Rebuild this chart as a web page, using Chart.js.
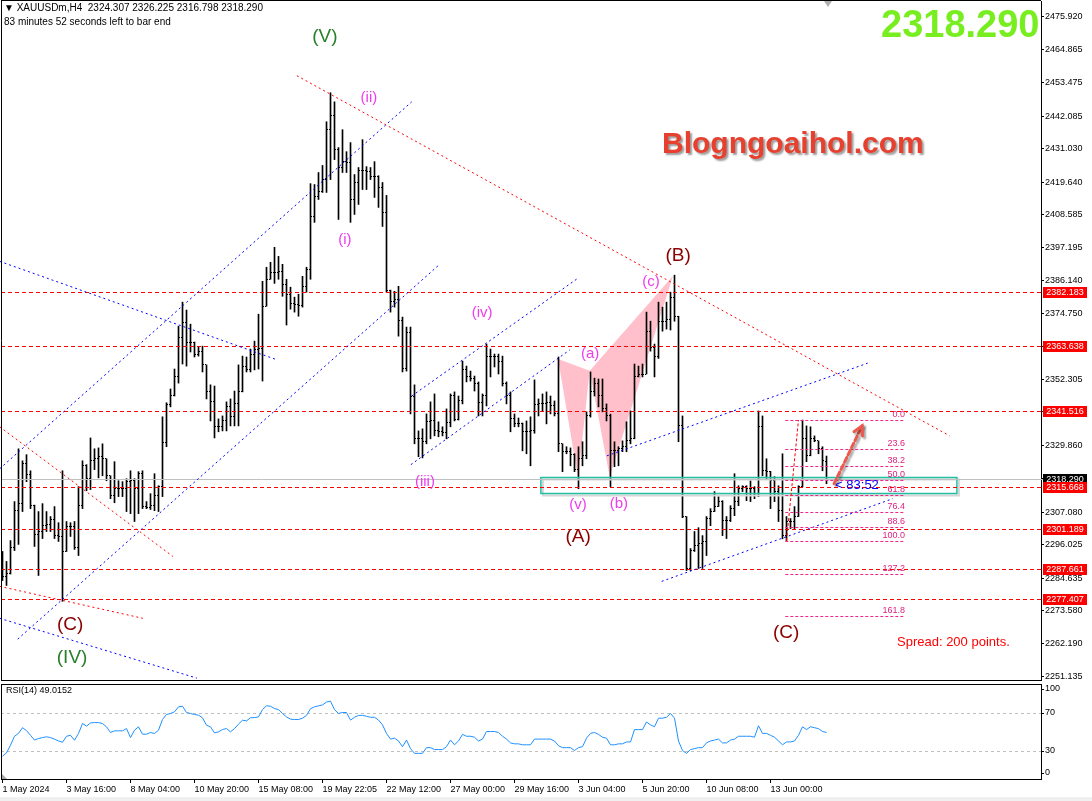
<!DOCTYPE html>
<html>
<head>
<meta charset="utf-8">
<title>XAUUSDm,H4</title>
<script src="https://cdn.jsdelivr.net/npm/chart.js@4.4.1/dist/chart.umd.min.js"></script>
<style>
  html, body { margin: 0; padding: 0; background: #fff; }
  body { position: relative; width: 1092px; height: 801px; overflow: hidden; }
  canvas { position: absolute; left: 0; }
  #priceChart { top: 0; }
  #rsiChart { top: 682px; }
  #strip { position: absolute; left: 0; top: 797px; width: 1092px; height: 4px; background: #f0f0f0; }
</style>
</head>
<body>
<canvas id="priceChart" width="1092" height="682"></canvas>
<canvas id="rsiChart" width="1092" height="115"></canvas>
<div id="strip"></div>
<script>
const timeTickIdx = [0, 16, 32, 48, 64, 80, 96, 112, 128, 144, 160, 176, 192];
const timeTickLabels = ["1 May 2024", "3 May 16:00", "8 May 04:00", "10 May 20:00", "15 May 08:00",
  "19 May 22:05", "22 May 12:00", "27 May 00:00", "29 May 16:00", "3 Jun 04:00", "5 Jun 20:00",
  "10 Jun 08:00", "13 Jun 00:00"];
const priceTicks = [2475.920, 2464.865, 2453.475, 2442.085, 2431.030, 2419.640, 2408.585, 2397.195,
  2386.140, 2374.750, 2363.695, 2352.305, 2341.250, 2329.860, 2318.470, 2307.080, 2296.025,
  2284.635, 2273.580, 2262.190, 2251.135];

const opens = [2289.6,
  2285.2, 2286.2, 2295.0, 2307.6, 2310.0, 2323.6, 2319.8, 2309.3, 2299.5, 2300.5,
  2302.5, 2302.9, 2304.6, 2299.1, 2298.8, 2293.7, 2302.2, 2302.2, 2295.0, 2309.3,
  2322.9, 2318.5, 2324.6, 2325.3, 2326.0, 2325.3, 2319.5, 2312.7, 2315.1, 2315.1,
  2315.1, 2317.5, 2317.8, 2315.1, 2320.2, 2309.0, 2308.6, 2309.3, 2312.7, 2315.8,
  2330.7, 2343.7, 2346.7, 2353.5, 2366.8, 2371.9, 2365.1, 2365.1, 2360.7, 2362.0,
  2357.3, 2348.4, 2344.7, 2336.2, 2336.2, 2338.2, 2343.0, 2339.6, 2344.0, 2348.1,
  2356.9, 2355.9, 2361.0, 2362.7, 2363.0, 2377.3, 2386.5, 2388.9, 2388.9, 2389.2,
  2384.8, 2381.4, 2378.3, 2378.0, 2377.7, 2384.1, 2389.9, 2407.9, 2414.7, 2416.4,
  2420.5, 2437.5, 2442.3, 2430.7, 2424.6, 2426.6, 2426.3, 2413.7, 2419.5, 2423.6,
  2423.6, 2423.2, 2421.5, 2421.5, 2417.8, 2409.3, 2382.5, 2379.0, 2379.7, 2372.6,
  2356.2, 2368.5, 2346.4, 2332.1, 2332.1, 2331.1, 2337.9, 2338.2, 2334.8, 2334.5,
  2334.1, 2337.5, 2346.7, 2338.6, 2345.0, 2355.9, 2353.2, 2352.8, 2351.1, 2344.4,
  2346.7, 2360.3, 2360.3, 2360.3, 2358.3, 2351.1, 2346.7, 2338.9, 2337.2, 2337.2,
  2334.5, 2334.5, 2334.8, 2343.7, 2344.0, 2344.0, 2344.4, 2343.3, 2340.6, 2330.4,
  2327.7, 2327.7, 2326.7, 2321.6, 2325.3, 2326.3, 2339.9, 2348.1, 2350.8, 2346.7,
  2342.6, 2339.9, 2328.0, 2328.0, 2328.7, 2329.4, 2331.4, 2332.1, 2353.5, 2353.9,
  2354.2, 2368.8, 2363.4, 2360.0, 2372.2, 2372.2, 2372.9, 2380.4, 2373.9, 2336.5,
  2305.6, 2287.9, 2294.0, 2295.7, 2296.4, 2297.1, 2304.9, 2307.3, 2309.0, 2310.7,
  2304.2, 2304.2, 2308.3, 2310.7, 2315.1, 2315.8, 2315.1, 2315.1, 2313.4, 2336.2,
  2321.2, 2320.9, 2317.8, 2314.1, 2307.6, 2299.1, 2303.9, 2303.9, 2305.6, 2315.8,
  2332.1, 2326.3, 2332.1, 2331.4, 2328.7, 2324.307];

const highs = [
  2293.7, 2290.3, 2297.4, 2310.7, 2328.7, 2324.6, 2326.7, 2321.2, 2309.5, 2307.3,
  2310.0, 2307.3, 2305.6, 2309.0, 2303.5, 2321.2, 2303.9, 2303.5, 2303.9, 2315.8,
  2324.6, 2323.3, 2332.4, 2328.7, 2329.0, 2330.4, 2325.3, 2319.5, 2324.3, 2317.8,
  2317.5, 2318.5, 2321.2, 2318.5, 2320.9, 2321.2, 2310.7, 2313.4, 2320.2, 2316.1,
  2339.6, 2344.4, 2349.1, 2355.9, 2370.5, 2378.7, 2376.0, 2371.2, 2365.1, 2363.4,
  2363.7, 2357.3, 2350.5, 2350.1, 2338.9, 2339.9, 2344.7, 2345.7, 2348.4, 2357.3,
  2360.3, 2360.0, 2362.7, 2365.4, 2374.6, 2385.8, 2390.6, 2392.3, 2397.4, 2394.3,
  2391.6, 2386.5, 2383.8, 2380.4, 2381.4, 2387.5, 2390.6, 2419.1, 2418.8, 2422.9,
  2425.3, 2440.2, 2450.1, 2447.0, 2431.4, 2437.5, 2430.0, 2433.1, 2422.2, 2424.6,
  2434.1, 2424.9, 2424.6, 2426.6, 2421.8, 2419.5, 2415.1, 2382.8, 2382.4, 2384.1,
  2373.6, 2370.2, 2370.2, 2350.5, 2334.8, 2335.5, 2340.6, 2344.7, 2347.4, 2337.9,
  2336.2, 2342.3, 2347.4, 2348.1, 2346.7, 2358.6, 2356.9, 2355.2, 2353.5, 2351.5,
  2347.4, 2364.4, 2362.7, 2361.0, 2361.0, 2360.3, 2351.5, 2348.1, 2340.6, 2339.2,
  2337.5, 2338.2, 2339.6, 2352.2, 2345.7, 2347.4, 2348.1, 2346.7, 2345.0, 2360.0,
  2330.4, 2329.4, 2329.0, 2327.0, 2329.4, 2331.1, 2341.3, 2354.9, 2352.8, 2352.5,
  2352.5, 2344.0, 2340.5, 2331.1, 2329.4, 2331.4, 2337.9, 2341.6, 2357.6, 2356.9,
  2357.6, 2375.3, 2372.2, 2364.4, 2378.7, 2377.0, 2378.7, 2382.1, 2387.9, 2373.9,
  2339.9, 2305.6, 2294.7, 2300.5, 2301.8, 2299.1, 2305.6, 2308.3, 2314.1, 2312.4,
  2311.0, 2305.6, 2309.3, 2320.2, 2316.1, 2316.1, 2316.1, 2317.8, 2315.8, 2341.6,
  2339.9, 2325.3, 2321.0, 2319.2, 2316.1, 2327.0, 2305.6, 2304.9, 2309.0, 2316.1,
  2338.5, 2336.5, 2336.2, 2333.1, 2331.4, 2329.4, 2326.225];

const lows = [
  2283.8, 2282.1, 2286.0, 2294.0, 2296.1, 2307.3, 2317.5, 2308.3, 2295.4, 2285.5,
  2298.1, 2300.5, 2300.5, 2298.1, 2297.1, 2276.7, 2293.7, 2298.8, 2294.4, 2292.3,
  2308.3, 2314.4, 2314.8, 2321.6, 2318.8, 2319.5, 2317.8, 2311.7, 2310.3, 2312.4,
  2312.4, 2307.3, 2306.6, 2303.9, 2306.6, 2308.3, 2308.3, 2308.0, 2307.6, 2307.3,
  2312.4, 2329.4, 2343.0, 2346.7, 2351.1, 2357.6, 2356.9, 2361.7, 2360.0, 2360.3,
  2354.9, 2345.7, 2338.2, 2332.4, 2334.5, 2334.8, 2334.8, 2336.5, 2336.5, 2336.5,
  2348.1, 2354.9, 2354.9, 2355.6, 2355.9, 2351.8, 2377.3, 2386.5, 2385.1, 2386.5,
  2380.7, 2370.9, 2376.3, 2375.3, 2373.9, 2377.0, 2382.1, 2386.5, 2405.9, 2413.7,
  2416.1, 2416.1, 2420.5, 2427.3, 2406.9, 2422.9, 2422.9, 2405.9, 2408.6, 2412.0,
  2417.1, 2417.1, 2420.5, 2414.4, 2411.0, 2404.5, 2382.1, 2375.3, 2377.0, 2367.1,
  2354.9, 2355.2, 2340.6, 2330.4, 2326.0, 2325.6, 2330.4, 2332.1, 2333.1, 2332.8,
  2333.1, 2332.1, 2336.2, 2338.2, 2338.5, 2344.0, 2351.5, 2351.8, 2348.4, 2339.9,
  2339.9, 2343.3, 2353.2, 2356.6, 2354.2, 2350.1, 2344.0, 2334.5, 2336.2, 2336.2,
  2328.0, 2327.0, 2322.9, 2334.0, 2339.9, 2341.6, 2337.2, 2340.6, 2339.9, 2327.7,
  2320.9, 2327.0, 2322.9, 2320.9, 2315.1, 2322.9, 2325.3, 2339.5, 2346.7, 2343.0,
  2341.3, 2338.2, 2315.8, 2322.6, 2322.9, 2327.7, 2327.7, 2330.4, 2332.1, 2353.2,
  2353.2, 2354.2, 2362.0, 2353.2, 2359.5, 2368.8, 2369.5, 2369.2, 2372.2, 2331.1,
  2305.2, 2287.2, 2287.2, 2293.7, 2287.9, 2287.9, 2292.3, 2302.5, 2307.3, 2309.0,
  2299.1, 2298.1, 2303.9, 2305.9, 2309.3, 2314.1, 2311.0, 2310.7, 2311.7, 2312.4,
  2319.5, 2318.5, 2308.3, 2310.7, 2303.9, 2298.0, 2297.3, 2301.5, 2301.5, 2305.6,
  2315.8, 2324.3, 2326.3, 2331.1, 2327.0, 2321.2, 2316.798];

const closes = [
  2285.2, 2286.2, 2295.0, 2307.6, 2310.0, 2323.6, 2319.8, 2309.3, 2299.5, 2300.5,
  2302.5, 2302.9, 2304.6, 2299.1, 2298.8, 2293.7, 2302.2, 2302.2, 2295.0, 2309.3,
  2322.9, 2318.5, 2324.6, 2325.3, 2326.0, 2325.3, 2319.5, 2312.7, 2315.1, 2315.1,
  2315.1, 2317.5, 2317.8, 2315.1, 2320.2, 2309.0, 2308.6, 2309.3, 2312.7, 2315.8,
  2330.7, 2343.7, 2346.7, 2353.5, 2366.8, 2371.9, 2365.1, 2365.1, 2360.7, 2362.0,
  2357.3, 2348.4, 2344.7, 2336.2, 2336.2, 2338.2, 2343.0, 2339.6, 2344.0, 2348.1,
  2356.9, 2355.9, 2361.0, 2362.7, 2363.0, 2377.3, 2386.5, 2388.9, 2388.9, 2389.2,
  2384.8, 2381.4, 2378.3, 2378.0, 2377.7, 2384.1, 2389.9, 2407.9, 2414.7, 2416.4,
  2420.5, 2437.5, 2442.3, 2430.7, 2424.6, 2426.6, 2426.3, 2413.7, 2419.5, 2423.6,
  2423.6, 2423.2, 2421.5, 2421.5, 2417.8, 2409.3, 2382.5, 2379.0, 2379.7, 2372.6,
  2356.2, 2368.5, 2346.4, 2332.1, 2332.1, 2331.1, 2337.9, 2338.2, 2334.8, 2334.5,
  2334.1, 2337.5, 2346.7, 2338.6, 2345.0, 2355.9, 2353.2, 2352.8, 2351.1, 2344.4,
  2346.7, 2360.3, 2360.3, 2360.3, 2358.3, 2351.1, 2346.7, 2338.9, 2337.2, 2337.2,
  2334.5, 2334.5, 2334.8, 2343.7, 2344.0, 2344.0, 2344.4, 2343.3, 2340.6, 2330.4,
  2327.7, 2327.7, 2326.7, 2321.6, 2325.3, 2326.3, 2339.9, 2348.1, 2350.8, 2346.7,
  2342.6, 2339.9, 2328.0, 2328.0, 2328.7, 2329.4, 2331.4, 2332.1, 2353.5, 2353.9,
  2354.2, 2368.8, 2363.4, 2360.0, 2372.2, 2372.2, 2372.9, 2380.4, 2373.9, 2336.5,
  2305.6, 2287.9, 2294.0, 2295.7, 2296.4, 2297.1, 2304.9, 2307.3, 2309.0, 2310.7,
  2304.2, 2304.2, 2308.3, 2310.7, 2315.1, 2315.8, 2315.1, 2315.1, 2313.4, 2336.2,
  2321.2, 2320.9, 2317.8, 2314.1, 2307.6, 2299.1, 2303.9, 2303.9, 2305.6, 2315.8,
  2332.1, 2326.3, 2332.1, 2331.4, 2328.7, 2324.6, 2318.290];

const rsi = [
  24, 27.5, 35.6, 45, 48, 54, 51, 46, 41, 42.6, 43.6, 44.4, 43.6, 41.9, 40.1, 38.7, 45, 46, 40.8, 47.9,
  58.4, 55.6, 59, 59.4, 59.4, 58.4, 54.9, 48.9, 50.7, 50.7, 50.7, 53.1, 43.6, 51.4, 54.9, 47.2, 47.2,
  48.9, 47.9, 51.4, 62.6, 67.9, 68.9, 70.7, 75.9, 76.6, 70, 68.9, 67.9, 67.2, 64.4, 56.6, 54.9, 48.6,
  49.6, 52.1, 53.1, 49.6, 53.1, 57.7, 61.9, 61.2, 64.4, 64.7, 65.4, 73.1, 77, 76.6, 74.2, 73.1, 68.9,
  65.4, 63, 62.6, 62.6,
  64, 67, 74, 76, 77, 78, 81, 82, 73, 69,
  70, 70, 62, 65, 67, 67, 66, 65, 65, 62,
  57, 48, 42, 43, 40, 34, 41, 32, 27, 27,
  27, 33, 33, 31, 31, 31, 34, 41, 36, 40,
  47, 45, 45, 44, 40, 42, 50, 50, 50, 49,
  45, 42, 38, 37, 37, 36, 36, 36, 42, 42,
  42, 42, 42, 40, 35, 33, 33, 33, 30, 33,
  34, 43, 48, 49, 47, 44, 43, 36, 36, 37,
  37, 39, 39, 52, 52, 52, 60, 57, 55, 64,
  64, 65, 69, 64, 40, 30, 27, 31, 32, 33,
  33, 38, 40, 41, 42, 38, 38, 41, 42, 45,
  45, 45, 45, 44, 56, 48, 48, 46, 44, 40,
  36, 39, 39, 40, 46, 55, 52, 55, 54, 53,
  50, 49.0152];

const levels = [2382.183, 2363.638, 2341.516, 2315.668, 2301.189, 2287.661, 2277.407];
const bid = 2318.290;

// trend lines as [bar, price, bar, price]
const blueLines = [
  [3.8, 2263.8, 109.3, 2391.6],
  [-0.7, 2321.9, 102.3, 2447.0],
  [-0.7, 2392.6, 68.1, 2359.3],
  [-0.7, 2270.9, 48.6, 2250.5],
  [102.1, 2323.3, 141.8, 2362.4],
  [102.3, 2346.7, 143.8, 2386.8],
  [151.1, 2326.3, 216.3, 2357.9],
  [164.8, 2283.5, 222.6, 2311.7]
];
const redLines = [
  [73.6, 2455.9, 236.8, 2333.1],
  [-0.7, 2336.2, 42.6, 2292.0],
  [-0.7, 2281.8, 35.1, 2270.9]
];

const fibLevels = [0, 23.6, 38.2, 50, 61.8, 76.4, 88.6, 100, 127.2, 161.8];
const fibHigh = 2338.5, fibLow = 2297.3;
const fibFrom = 195.7, fibTo = 225.6;
const fibTrend = [196, 2297.3, 199, 2338.5];

const harmonic = [
  [[138.9, 2359.3], [143.9, 2318.5], [146.8, 2355.3]],
  [[146.8, 2355.3], [151.8, 2319.1], [167.6, 2387.6]]
];
const zone = [134.6, 2319.2, 238.6, 2313.6];
const arrowPts = [207.9, 2316.8, 214.9, 2336.5];

const GREEN = '#26802a', MAG = '#ee3cee', DRED = '#8b0000';
const waveLabels = [
  ['(V)', 80.6, 2469.1, GREEN, 19],
  ['(ii)', 91.6, 2448.4, MAG, 15],
  ['(i)', 85.6, 2400.1, MAG, 15],
  ['(iv)', 119.9, 2375.2, MAG, 15],
  ['(iii)', 105.6, 2317.4, MAG, 15],
  ['(v)', 143.9, 2309.6, MAG, 15],
  ['(a)', 146.9, 2361.0, MAG, 15],
  ['(b)', 154.1, 2309.9, MAG, 15],
  ['(c)', 162.1, 2385.5, MAG, 15],
  ['(B)', 168.9, 2394.6, DRED, 19],
  ['(A)', 143.9, 2298.7, DRED, 19],
  ['(C)', 16.9, 2268.8, DRED, 19],
  ['(IV)', 17.4, 2257.3, GREEN, 19],
  ['(C)', 195.9, 2266.1, DRED, 19]
];

const FONT = 'Liberation Sans';
const xMin = -0.375, xMax = 259.625;
const yMin = 2249.87, yMax = 2481.375;

function noPad(scale) {
  scale.paddingTop = 0; scale.paddingBottom = 0;
  scale.paddingLeft = 0; scale.paddingRight = 0;
}

function seg(ctx, x1, y1, x2, y2, color, dash, width) {
  ctx.save();
  ctx.strokeStyle = color;
  ctx.lineWidth = width || 1;
  ctx.setLineDash(dash || []);
  ctx.beginPath();
  ctx.moveTo(x1, y1);
  ctx.lineTo(x2, y2);
  ctx.stroke();
  ctx.restore();
}

function label(ctx, s, x, y, font, color, align, base) {
  ctx.font = font;
  ctx.fillStyle = color;
  ctx.textAlign = align || 'left';
  ctx.textBaseline = base || 'alphabetic';
  ctx.fillText(s, x, y);
}

function axisBox(ctx, yy, text, bg) {
  ctx.fillStyle = bg;
  ctx.fillRect(1043, yy - 5, 44, 11);
  label(ctx, text, 1065, yy + 0.5, '9px ' + FONT, '#fff', 'center', 'middle');
}

const priceOverlay = {
  id: 'priceOverlay',
  beforeDatasetsDraw(chart) {
    const { ctx, scales: { x, y } } = chart;
    ctx.save();
    ctx.fillStyle = '#ffc0cb';
    harmonic.forEach(tri => {
      ctx.beginPath();
      tri.forEach(([i, p], k) => {
        if (k === 0) ctx.moveTo(x.getPixelForValue(i), y.getPixelForValue(p));
        else ctx.lineTo(x.getPixelForValue(i), y.getPixelForValue(p));
      });
      ctx.closePath();
      ctx.fill();
    });
    ctx.restore();
  },
  afterDatasetsDraw(chart) {
    const { ctx, scales: { x, y } } = chart;
    const px = i => x.getPixelForValue(i);
    const py = p => y.getPixelForValue(p);
    const crisp = v => Math.round(v) + 0.5;
    ctx.save();

    // open / close ticks
    ctx.fillStyle = '#000';
    for (let i = 0; i < opens.length; i++) {
      const cx = Math.round(px(i) - 0.5);
      ctx.fillRect(cx - 1, Math.round(py(opens[i]) - 0.5), 1, 1);
      ctx.fillRect(cx + 1, Math.round(py(closes[i]) - 0.5), 1, 1);
    }

    // zone rectangle
    const zx1 = px(zone[0]), zx2 = px(zone[2]);
    const zy1 = crisp(py(zone[1])), zy2 = crisp(py(zone[3]));
    ctx.strokeStyle = '#d6d6d6'; ctx.lineWidth = 2;
    ctx.strokeRect(zx1 + 2, zy1 + 2, zx2 - zx1, zy2 - zy1);
    ctx.strokeStyle = '#23bfa4'; ctx.lineWidth = 1.5;
    ctx.strokeRect(zx1, zy1, zx2 - zx1, zy2 - zy1);

    // horizontal levels and bid
    levels.forEach(v => {
      const yy = crisp(py(v));
      seg(ctx, 1, yy, 1043, yy, '#ff0000', [4, 3], 1);
    });
    const by = crisp(py(bid));
    seg(ctx, 1, by, 1043, by, '#c0c0c0', [], 1);

    // trend lines
    blueLines.forEach(l => seg(ctx, px(l[0]), py(l[1]), px(l[2]), py(l[3]), '#0000ff', [2, 3], 1));
    redLines.forEach(l => seg(ctx, px(l[0]), py(l[1]), px(l[2]), py(l[3]), '#ff0000', [2, 3], 1));

    // fibonacci
    fibLevels.forEach(f => {
      const yy = crisp(py(fibHigh - (fibHigh - fibLow) * f / 100));
      seg(ctx, px(fibFrom), yy, px(fibTo), yy, '#f0288c', [3, 2], 1);
      label(ctx, f.toFixed(1), px(fibTo), yy - 1, '9px ' + FONT, '#e0207f', 'right', 'bottom');
    });
    seg(ctx, px(fibTrend[0]), py(fibTrend[1]), px(fibTrend[2]), py(fibTrend[3]), '#ff0000', [3, 2], 1);

    // wave labels
    waveLabels.forEach(([s, i, p, c, sz]) => {
      label(ctx, s, px(i), py(p), sz + 'px ' + FONT, c, 'center', 'middle');
    });

    // header + overlay texts
    label(ctx, '\u25BC XAUUSDm,H4  2324.307 2326.225 2316.798 2318.290', 4, 11, '10px ' + FONT, '#000');
    label(ctx, '83 minutes 52 seconds left to bar end', 4, 25, '10px ' + FONT, '#000');
    label(ctx, '2318.290', 881, 37, 'bold 38px ' + FONT, '#78ee20');
    ctx.save();
    ctx.shadowColor = 'rgba(0,0,0,0.4)';
    ctx.shadowOffsetX = 2; ctx.shadowOffsetY = 2; ctx.shadowBlur = 2;
    label(ctx, 'Blogngoaihol.com', 662, 153, 'bold 30px ' + FONT, '#e8402f');
    ctx.restore();
    label(ctx, 'Spread: 200 points.', 897, 646, '13px ' + FONT, '#ff0000');
    label(ctx, '< 83:52', px(arrowPts[0]) + 1, py(bid) + 6, '13px ' + FONT, '#0000ff', 'left', 'middle');

    // arrow
    const ax1 = px(arrowPts[0]), ay1 = py(arrowPts[1]), ax2 = px(arrowPts[2]), ay2 = py(arrowPts[3]);
    const ang = Math.atan2(ay2 - ay1, ax2 - ax1);
    ctx.save();
    ctx.shadowColor = 'rgba(0,0,0,0.35)';
    ctx.shadowOffsetX = 2; ctx.shadowOffsetY = 2; ctx.shadowBlur = 2;
    ctx.strokeStyle = '#ea5a4e'; ctx.lineWidth = 3; ctx.lineCap = 'round';
    ctx.setLineDash([5, 3]);
    ctx.beginPath(); ctx.moveTo(ax1, ay1); ctx.lineTo(ax2, ay2); ctx.stroke();
    ctx.setLineDash([]);
    ctx.beginPath();
    ctx.moveTo(ax2 - 10 * Math.cos(ang - 0.5), ay2 - 10 * Math.sin(ang - 0.5));
    ctx.lineTo(ax2, ay2);
    ctx.lineTo(ax2 - 10 * Math.cos(ang + 0.5), ay2 - 10 * Math.sin(ang + 0.5));
    ctx.stroke();
    ctx.restore();

    // chart shift marker
    ctx.fillStyle = '#b0b0b0';
    ctx.beginPath(); ctx.moveTo(824, 1); ctx.lineTo(832, 1); ctx.lineTo(828, 7); ctx.closePath(); ctx.fill();

    // axis price boxes
    axisBox(ctx, Math.round(py(bid)), bid.toFixed(3), '#000');
    levels.forEach(v => axisBox(ctx, Math.round(py(v)), v.toFixed(3), '#ff0000'));

    // frame
    seg(ctx, 1.5, 0, 1.5, 681, '#000');
    seg(ctx, 1, 0.5, 1041, 0.5, '#000');
    seg(ctx, 1, 680.5, 1041, 680.5, '#000');
    ctx.restore();
  }
};

new Chart(document.getElementById('priceChart'), {
  type: 'bar',
  data: {
    datasets: [{
      data: highs.map((h, i) => ({ x: i, y: [lows[i], h] })),
      backgroundColor: '#000',
      borderWidth: 0,
      barThickness: 1
    }]
  },
  options: {
    responsive: false,
    animation: false,
    events: [],
    devicePixelRatio: 1,
    layout: { padding: { top: 1, left: 1, right: 0, bottom: 2 } },
    plugins: { legend: { display: false }, tooltip: { enabled: false } },
    scales: {
      x: {
        type: 'linear', min: xMin, max: xMax, offset: false, bounds: 'data',
        display: false, grid: { offset: false }
      },
      y: {
        type: 'linear', position: 'right', min: yMin, max: yMax, bounds: 'data',
        afterBuildTicks: s => { s.ticks = priceTicks.map(v => ({ value: v })); },
        afterFit: s => { s.width = 51; noPad(s); },
        ticks: {
          autoSkip: false, padding: 1, color: '#000',
          font: { family: FONT, size: 9 },
          callback: v => Number(v).toFixed(3)
        },
        grid: { drawOnChartArea: false, drawTicks: true, tickLength: 3, color: '#000' },
        border: { display: true, color: '#000' }
      }
    }
  },
  plugins: [priceOverlay]
});

const rsiOverlay = {
  id: 'rsiOverlay',
  beforeDatasetsDraw(chart) {
    const { ctx, chartArea: a, scales: { y } } = chart;
    [70, 30].forEach(v => {
      const yy = Math.round(y.getPixelForValue(v)) + 0.5;
      seg(ctx, a.left, yy, a.right, yy, '#c0c0c0', [3, 3], 1);
    });
  },
  afterDraw(chart) {
    const { ctx, chartArea: a, scales: { y } } = chart;
    ctx.save();
    [100, 70, 30, 0].forEach(v => {
      const yy = Math.min(Math.max(y.getPixelForValue(v), a.top + 5), a.bottom - 6);
      seg(ctx, a.right, Math.round(yy) + 0.5, a.right + 3, Math.round(yy) + 0.5, '#000');
      label(ctx, String(v), a.right + 4, yy, '9px ' + FONT, '#000', 'left', 'middle');
    });
    label(ctx, 'RSI(14) ' + rsi[rsi.length - 1].toFixed(4), 6, a.top + 7, '9px ' + FONT, '#000', 'left', 'middle');
    seg(ctx, 1.5, a.top, 1.5, a.bottom, '#000');
    seg(ctx, 1, a.top + 0.5, a.right, a.top + 0.5, '#000');
    ctx.fillStyle = '#a8a8a8';
    ctx.beginPath(); ctx.moveTo(2, a.bottom); ctx.lineTo(2, a.bottom - 5); ctx.lineTo(7, a.bottom); ctx.closePath(); ctx.fill();
    ctx.restore();
  }
};

new Chart(document.getElementById('rsiChart'), {
  type: 'line',
  data: {
    datasets: [{
      data: rsi.map((v, i) => ({ x: i, y: v })),
      borderColor: '#1e90ff',
      borderWidth: 1,
      pointRadius: 0,
      tension: 0
    }]
  },
  options: {
    responsive: false,
    animation: false,
    events: [],
    devicePixelRatio: 1,
    layout: { padding: { top: 2, left: 1, right: 0, bottom: 0 } },
    plugins: { legend: { display: false }, tooltip: { enabled: false } },
    scales: {
      x: {
        type: 'linear', min: xMin, max: xMax, offset: false, bounds: 'data',
        afterBuildTicks: s => { s.ticks = timeTickIdx.map(v => ({ value: v })); },
        afterFit: s => { s.height = 18; noPad(s); },
        ticks: {
          autoSkip: false, maxRotation: 0, minRotation: 0, align: 'start', padding: 1,
          color: '#000', font: { family: FONT, size: 9 },
          callback: (v, idx) => timeTickLabels[idx]
        },
        grid: { drawOnChartArea: false, drawTicks: true, tickLength: 4, color: '#000' },
        border: { display: true, color: '#000' }
      },
      y: {
        type: 'linear', position: 'right', min: 0, max: 100, bounds: 'data',
        afterFit: s => { s.width = 51; noPad(s); },
        ticks: { display: false },
        grid: { display: false },
        border: { display: true, color: '#000' }
      }
    }
  },
  plugins: [rsiOverlay]
});
</script>
</body>
</html>
